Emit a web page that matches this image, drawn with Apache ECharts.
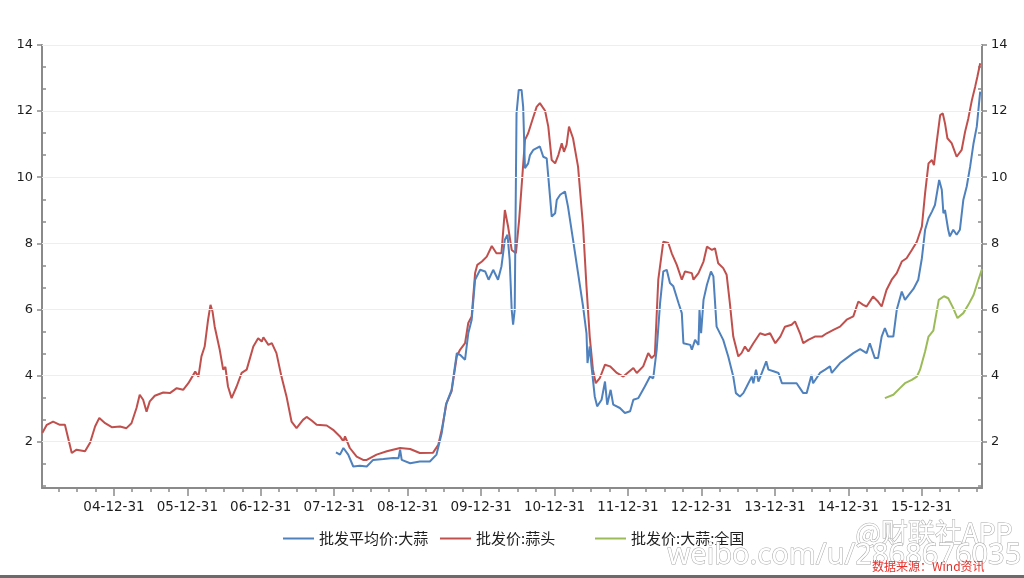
<!DOCTYPE html>
<html>
<head>
<meta charset="utf-8">
<script src="https://cdn.jsdelivr.net/npm/echarts@6/dist/echarts.min.js"></script>
<style>
html,body{margin:0;padding:0;background:#fff;}
#chart{width:1024px;height:578px;}
</style>
</head>
<body>
<div id="chart"></div>
<script>
// ---------- data ----------
const seriesNames = ['批发平均价:大蒜', '批发价:蒜头', '批发价:大蒜:全国'];

const redDates = ['2004-01-10','2004-02-01','2004-03-03','2004-04-06','2004-05-01','2004-06-04','2004-06-28','2004-08-09','2004-09-03','2004-09-28','2004-10-19','2004-11-17','2004-12-20',
'2005-01-30','2005-03-03','2005-03-28','2005-04-22','2005-05-08','2005-05-25','2005-06-11','2005-06-27','2005-07-22','2005-09-02','2005-10-05','2005-11-08','2005-12-10',
'2006-01-05','2006-02-08','2006-02-24','2006-03-11','2006-03-27','2006-04-13','2006-04-25','2006-05-05','2006-05-16','2006-06-10','2006-06-27','2006-07-08','2006-07-21','2006-08-08','2006-09-02','2006-09-27','2006-10-22','2006-11-24','2006-12-18',
'2007-01-05','2007-01-13','2007-02-07','2007-02-24','2007-03-19','2007-04-13','2007-05-08','2007-06-02','2007-06-27','2007-07-29','2007-08-16','2007-09-10','2007-10-05','2007-11-24','2007-12-26',
'2008-01-29','2008-02-15','2008-02-23','2008-03-18','2008-04-21','2008-05-23','2008-06-10','2008-07-29','2008-09-18','2008-11-23',
'2009-01-12','2009-03-01','2009-05-06','2009-06-01','2009-06-18','2009-07-12','2009-08-06','2009-09-01','2009-09-17','2009-10-12','2009-10-28','2009-11-14','2009-12-01','2009-12-12',
'2010-01-04','2010-01-28','2010-02-22','2010-03-17','2010-04-11','2010-04-28','2010-05-14','2010-06-01','2010-06-22','2010-07-08','2010-07-25','2010-08-06','2010-08-22','2010-09-09','2010-09-17','2010-10-03','2010-10-19','2010-11-14','2010-11-30','2010-12-17',
'2011-01-03','2011-01-19','2011-02-05','2011-02-16','2011-03-01','2011-03-13','2011-04-02','2011-04-27','2011-05-22','2011-06-08','2011-06-24','2011-07-10','2011-07-24','2011-08-13','2011-09-08','2011-10-03','2011-11-06','2011-12-08',
'2012-01-27','2012-02-13','2012-03-16','2012-04-10','2012-04-27','2012-05-13','2012-05-30','2012-06-24','2012-07-19','2012-08-05','2012-08-30','2012-09-24','2012-10-10','2012-11-13','2012-11-21','2012-12-16',
'2013-01-10','2013-01-27','2013-02-21','2013-03-08','2013-03-24','2013-04-18','2013-05-05','2013-05-21','2013-06-07','2013-07-02','2013-07-18','2013-08-04','2013-08-21','2013-09-15','2013-10-18','2013-11-12','2013-12-07',
'2014-01-02','2014-01-27','2014-02-19','2014-03-24','2014-04-10','2014-05-05','2014-05-21','2014-06-15','2014-07-18','2014-08-21','2014-09-15','2014-10-18','2014-11-20','2014-12-23',
'2015-01-25','2015-02-19','2015-03-15','2015-04-01','2015-05-03','2015-05-28','2015-06-15','2015-07-09','2015-08-04','2015-08-29','2015-09-23','2015-10-17','2015-11-12','2015-12-07',
'2016-01-01','2016-01-17','2016-02-03','2016-02-20','2016-03-01','2016-03-14','2016-04-01','2016-04-14','2016-04-25','2016-05-07','2016-05-28','2016-06-22','2016-07-17','2016-08-03','2016-08-19','2016-09-06','2016-09-22','2016-10-03','2016-10-17'];
const redValues = [2.27,2.51,2.61,2.51,2.51,1.66,1.76,1.71,1.97,2.46,2.72,2.56,2.44,
2.46,2.41,2.56,3.02,3.42,3.27,2.91,3.22,3.39,3.49,3.47,3.62,3.57,
3.77,4.12,3.97,4.58,4.88,5.69,6.14,5.94,5.48,4.78,4.18,4.26,3.67,3.32,3.67,4.08,4.18,4.88,5.13,
5.03,5.16,4.93,4.98,4.68,3.97,3.37,2.61,2.41,2.66,2.75,2.64,2.51,2.49,2.36,
2.16,2.01,2.16,1.81,1.55,1.45,1.45,1.61,1.71,1.81,
1.78,1.66,1.67,1.91,2.36,3.17,3.52,4.58,4.78,4.98,5.59,5.79,7.10,7.35,
7.45,7.60,7.92,7.70,7.70,9.01,8.51,7.80,7.70,8.71,10.12,11.13,11.33,11.68,11.83,12.13,12.24,12.01,11.53,10.52,
10.42,10.67,11.03,10.77,10.98,11.53,11.18,10.32,8.51,6.69,5.18,4.18,3.77,3.92,4.33,4.28,4.08,3.97,
4.23,4.08,4.28,4.68,4.53,4.63,6.90,8.05,8.01,7.70,7.35,6.90,7.15,7.10,6.90,7.10,
7.45,7.90,7.80,7.85,7.40,7.25,7.05,6.19,5.18,4.58,4.68,4.88,4.73,4.98,5.28,5.23,5.28,
4.98,5.18,5.48,5.54,5.64,5.28,4.98,5.08,5.18,5.18,5.28,5.38,5.48,5.69,
5.79,6.24,6.14,6.09,6.39,6.24,6.09,6.59,6.90,7.10,7.45,7.55,7.80,8.05,
8.51,9.52,10.42,10.52,10.37,11.03,11.88,11.93,11.63,11.18,11.03,10.62,10.83,11.38,11.78,12.34,12.74,13.04,13.45];

const blueDates = ['2008-01-09','2008-01-29','2008-02-15','2008-03-10','2008-04-04','2008-05-07','2008-06-10','2008-07-12','2008-09-01','2008-10-20','2008-11-15','2008-11-23','2008-12-01',
'2009-01-12','2009-03-01','2009-04-20','2009-05-23','2009-06-18','2009-07-09','2009-08-06','2009-09-01','2009-09-17','2009-10-12','2009-10-28','2009-11-14','2009-12-01','2009-12-26',
'2010-01-20','2010-02-06','2010-03-01','2010-03-25','2010-04-11','2010-04-28','2010-05-11','2010-05-22','2010-06-01','2010-06-08','2010-06-16','2010-06-25','2010-07-06','2010-07-20','2010-07-28','2010-08-06','2010-08-22','2010-08-31','2010-09-17','2010-10-03','2010-10-19','2010-11-05','2010-11-22','2010-11-30','2010-12-17',
'2011-01-03','2011-01-11','2011-01-28','2011-02-21','2011-03-08','2011-04-02','2011-04-27','2011-05-22','2011-06-08','2011-06-13','2011-06-24','2011-07-03','2011-07-19','2011-07-31','2011-08-22','2011-09-08','2011-09-19','2011-10-06','2011-10-19','2011-11-21','2011-12-16',
'2012-01-11','2012-01-27','2012-02-21','2012-03-24','2012-04-19','2012-05-05','2012-05-22','2012-06-08','2012-06-24','2012-07-11','2012-07-27','2012-08-13','2012-09-08','2012-09-24','2012-10-02','2012-11-05','2012-11-13','2012-11-29','2012-12-16','2012-12-21','2012-12-29',
'2013-01-10','2013-01-27','2013-02-16','2013-02-28','2013-03-16','2013-04-18','2013-05-13','2013-06-07','2013-06-20','2013-07-10','2013-07-27','2013-08-13','2013-09-07','2013-09-15','2013-09-28','2013-10-10','2013-10-27','2013-11-18','2013-11-29','2013-12-24',
'2014-01-18','2014-02-04','2014-03-07','2014-04-18','2014-05-21','2014-06-07','2014-07-01','2014-07-09','2014-08-12','2014-09-07','2014-10-01','2014-10-10','2014-11-20','2014-12-23',
'2015-01-25','2015-02-28','2015-04-01','2015-04-17','2015-05-12','2015-05-28','2015-06-15','2015-07-01','2015-07-17','2015-08-12','2015-08-29','2015-09-23','2015-10-09','2015-10-25','2015-11-20','2015-12-14',
'2016-01-01','2016-01-17','2016-02-03','2016-02-20','2016-03-06','2016-03-14','2016-03-27','2016-04-09','2016-04-17','2016-04-25','2016-05-11','2016-05-19','2016-06-05','2016-06-22','2016-07-08','2016-07-25','2016-08-11','2016-08-28','2016-09-14','2016-09-30','2016-10-17'];
const blueValues = [1.68,1.61,1.81,1.61,1.25,1.27,1.25,1.45,1.48,1.51,1.50,1.76,1.45,
1.35,1.40,1.40,1.61,2.26,3.12,3.57,4.68,4.63,4.48,5.28,5.69,6.90,7.20,
7.15,6.90,7.20,6.90,7.30,8.11,8.26,7.50,5.99,5.54,5.99,11.93,12.64,12.64,12.13,10.27,10.42,10.67,10.83,10.88,10.93,10.62,10.57,10.02,8.81,
8.91,9.31,9.47,9.57,9.11,8.11,7.10,6.09,5.28,4.38,4.88,4.28,3.37,3.07,3.27,3.82,3.12,3.57,3.12,3.02,2.87,
2.92,3.27,3.32,3.67,3.97,3.92,4.78,6.19,7.15,7.20,6.80,6.70,6.19,5.89,4.98,4.93,4.78,5.08,4.93,5.99,5.28,
6.29,6.75,7.15,7.00,5.48,5.08,4.58,3.97,3.47,3.37,3.47,3.67,3.97,3.77,4.18,3.82,4.08,4.43,4.18,4.13,
4.08,3.77,3.77,3.77,3.47,3.47,4.02,3.77,4.08,4.18,4.28,4.08,4.38,4.53,
4.68,4.80,4.68,4.98,4.53,4.53,5.18,5.44,5.18,5.18,5.99,6.54,6.29,6.42,6.62,6.90,
7.55,8.41,8.76,8.96,9.16,9.16,9.92,9.62,8.91,9.01,8.41,8.21,8.41,8.26,8.41,9.31,9.72,10.32,11.03,11.53,12.59];

const greenDates = ['2015-07-01','2015-08-12','2015-09-14','2015-10-09','2015-11-12','2015-12-07','2015-12-23',
'2016-01-17','2016-02-03','2016-02-27','2016-03-25','2016-04-20','2016-05-11','2016-06-05','2016-06-26','2016-07-25','2016-08-19','2016-09-14','2016-10-08','2016-10-26'];
const greenValues = [3.32,3.42,3.62,3.77,3.87,3.97,4.18,4.73,5.18,5.36,6.29,6.40,6.34,6.04,5.74,5.89,6.14,6.44,6.90,7.22];

const xMin = '2004-01-08';
const xMax = '2016-10-26';
const yearLabelDates = ['2004-12-31','2005-12-31','2006-12-31','2007-12-31','2008-12-31','2009-12-31','2010-12-31','2011-12-31','2012-12-31','2013-12-31','2014-12-31','2015-12-31'];
const yTickLabels = [2,4,6,8,10,12,14];
const yMin = 0.6, yMax = 14;

// ---------- derived ----------
const ts = s => Date.parse(s + 'T00:00:00Z');
function pairs(d, v){ return d.map((x,i)=>[ts(x), v[i]]); }
const quarterTicks = [];
for (let y = 2004; y <= 2016; y++) {
  ['03-31','06-30','09-30','12-31'].forEach(m => quarterTicks.push(ts(y + '-' + m)));
}
const yearTicks = yearLabelDates.map(ts);
const yMinorTicks = [];
for (let k = 1; k <= 21; k++) { if (k % 3 !== 0) yMinorTicks.push(k * 2 / 3); }

function pad(n){ return (n < 10 ? '0' : '') + n; }
function fmtDate(v){
  const d = new Date(v);
  return pad(d.getUTCFullYear() % 100) + '-' + pad(d.getUTCMonth() + 1) + '-' + pad(d.getUTCDate());
}

const axisColor = '#8a8a8a';
const labelColor = '#1e1e1e';
const labelFont = 'DejaVu Sans';
const gridBox = { left: 42, right: 42, top: 45, bottom: 90 };
const colors = ['#4F81BD', '#C0504D', '#9BBB59'];

const chart = echarts.init(document.getElementById('chart'), null, { renderer: 'canvas' });

const xBase = { type: 'value', min: ts(xMin), max: ts(xMax), splitLine: { show: false } };
const yBase = { type: 'value', min: yMin, max: yMax, splitLine: { show: false } };

chart.setOption({
  animation: false,
  backgroundColor: '#ffffff',
  grid: [Object.assign({}, gridBox), Object.assign({}, gridBox)],
  xAxis: [
    Object.assign({}, xBase, {
      gridIndex: 0,
      axisLine: { show: true, lineStyle: { color: axisColor, width: 2 } },
      axisTick: { show: true, customValues: quarterTicks, length: 4, lineStyle: { color: axisColor, width: 1.5 } },
      axisLabel: { show: false }
    }),
    Object.assign({}, xBase, {
      gridIndex: 1,
      axisLine: { show: false },
      axisTick: { show: true, customValues: yearTicks, length: 8, lineStyle: { color: axisColor, width: 1.5 } },
      axisLabel: {
        show: true, customValues: yearTicks, formatter: v => fmtDate(v),
        color: labelColor, fontSize: 13.5, fontFamily: labelFont, margin: 12
      }
    })
  ],
  yAxis: [
    Object.assign({}, yBase, {
      gridIndex: 0, position: 'left',
      axisLine: { show: true, lineStyle: { color: axisColor, width: 2 } },
      axisTick: { show: true, inside: true, customValues: yMinorTicks, length: 4, lineStyle: { color: axisColor, width: 1.5 } },
      axisLabel: { show: false }
    }),
    Object.assign({}, yBase, {
      gridIndex: 0, position: 'right',
      axisLine: { show: true, lineStyle: { color: axisColor, width: 2 } },
      axisTick: { show: true, inside: true, customValues: yMinorTicks, length: 4, lineStyle: { color: axisColor, width: 1.5 } },
      axisLabel: { show: false }
    }),
    Object.assign({}, yBase, {
      gridIndex: 1, position: 'left',
      axisLine: { show: false },
      axisTick: { show: true, customValues: yTickLabels, length: 5, lineStyle: { color: axisColor, width: 1.5 } },
      axisLabel: { show: true, customValues: yTickLabels, color: labelColor, fontSize: 13, fontFamily: labelFont, margin: 9 }
    }),
    Object.assign({}, yBase, {
      gridIndex: 1, position: 'right',
      axisLine: { show: false },
      axisTick: { show: true, customValues: yTickLabels, length: 5, lineStyle: { color: axisColor, width: 1.5 } },
      axisLabel: { show: true, customValues: yTickLabels, color: labelColor, fontSize: 13, fontFamily: labelFont, margin: 9 }
    })
  ],
  legend: [
    { data: [seriesNames[0]], left: 283, top: 531 },
    { data: [seriesNames[1]], left: 440, top: 531 },
    { data: [seriesNames[2]], left: 595, top: 531 }
  ].map(l => Object.assign(l, {
    icon: 'rect', itemWidth: 31, itemHeight: 2, itemGap: 0,
    textStyle: { color: labelColor, fontSize: 15, fontFamily: 'Noto Sans CJK SC' },
    padding: 0
  })),
  graphic: [
    { type: 'rect', left: 0, top: 575, shape: { width: 1024, height: 3 }, style: { fill: '#6b6b6b' }, silent: true, z: 100 },
    { type: 'text', left: 855, top: 519, style: { text: '@财联社APP', fontSize: 27, fontFamily: 'Noto Sans CJK SC', fill: '#ffffff', stroke: '#a8a8a8', lineWidth: 1 }, silent: true, z: 90 },
    { type: 'text', left: 667, top: 541, style: { text: 'weibo.com/u/2868676035', fontSize: 29, fontFamily: 'Noto Sans', fill: '#ffffff', stroke: '#a8a8a8', lineWidth: 1 }, silent: true, z: 90 },
    { type: 'text', left: 872, top: 560, style: { text: '数据来源：Wind资讯', fontSize: 12, fontFamily: 'Noto Sans CJK SC', fill: '#e8302a' }, silent: true, z: 95 }
  ],
  series: [
    {
      name: 'grid', type: 'line', xAxisIndex: 0, yAxisIndex: 0, data: [], z: 1, silent: true,
      markLine: {
        silent: true, symbol: ['none', 'none'], label: { show: false }, animation: false,
        lineStyle: { color: '#eeeeee', type: 'solid', width: 1 },
        emphasis: { disabled: true },
        data: yTickLabels.map(v => ({ yAxis: v }))
      }
    },
    {
      name: seriesNames[0], type: 'line', xAxisIndex: 0, yAxisIndex: 0, z: 3,
      data: pairs(blueDates, blueValues), symbol: 'none', showSymbol: false,
      lineStyle: { color: colors[0], width: 2 }, itemStyle: { color: colors[0] }
    },
    {
      name: seriesNames[1], type: 'line', xAxisIndex: 0, yAxisIndex: 0, z: 2,
      data: pairs(redDates, redValues), symbol: 'none', showSymbol: false,
      lineStyle: { color: colors[1], width: 2 }, itemStyle: { color: colors[1] }
    },
    {
      name: seriesNames[2], type: 'line', xAxisIndex: 0, yAxisIndex: 0, z: 3,
      data: pairs(greenDates, greenValues), symbol: 'none', showSymbol: false,
      lineStyle: { color: colors[2], width: 2 }, itemStyle: { color: colors[2] }
    }
  ]
});
</script>
</body>
</html>
